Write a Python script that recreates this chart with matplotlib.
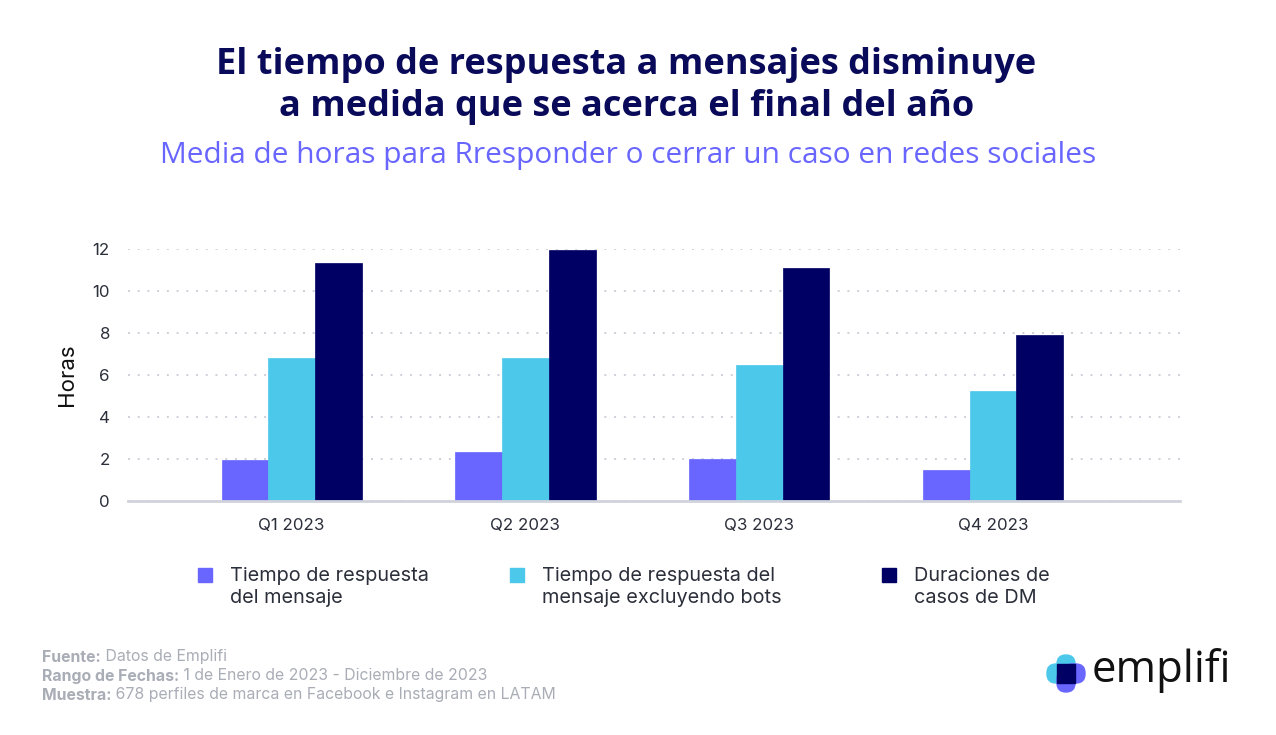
import matplotlib.pyplot as plt
from matplotlib.patches import FancyBboxPatch, Rectangle
import numpy as np

quarters = ['Q1 2023', 'Q2 2023', 'Q3 2023', 'Q4 2023']
series_names = ['Tiempo de respuesta\ndel mensaje',
                'Tiempo de respuesta del\nmensaje excluyendo bots',
                'Duraciones de\ncasos de DM']
resp_time = [1.97, 2.31, 2.0, 1.46]
resp_no_bots = [6.79, 6.82, 6.48, 5.24]
dm_duration = [11.33, 11.94, 11.08, 7.89]
colors = ['#6966ff', '#4cc8ea', '#000064']

W, H = 1276, 735
fig = plt.figure(figsize=(W / 100, H / 100), dpi=100)
fig.patch.set_facecolor('white')

ax = fig.add_axes([128 / W, (H - 501) / H, (1180 - 128) / W, 252 / H])
x = np.arange(len(quarters))
bw = 0.2
for i, vals in enumerate([resp_time, resp_no_bots, dm_duration]):
    ax.bar(x + (i - 1) * bw, vals, bw, color=colors[i], zorder=3,
           edgecolor=colors[i], linewidth=0.5)

ax.set_xlim(-0.70, 3.80)
ax.set_ylim(0, 12)
ax.set_yticks([0, 2, 4, 6, 8, 10, 12])
ax.set_xticks(x)
ax.set_xticklabels(quarters)
ax.grid(axis='y', linestyle=(0, (1, 4)), color='#cdcfd9', linewidth=1.4, zorder=0)
for s in ['top', 'right', 'left']:
    ax.spines[s].set_visible(False)
ax.spines['bottom'].set_color('#d0d3dc')
ax.spines['bottom'].set_linewidth(2)
ax.spines['bottom'].set_zorder(4)
ax.tick_params(axis='both', length=0, labelsize=12.2, labelcolor='#2b2f3a', labelfontfamily='Inter')
ax.tick_params(axis='y', pad=13)
ax.tick_params(axis='x', pad=12)
ax.set_ylabel('Horas', fontsize=16, color='#111111', family='Inter', labelpad=11)

# titles
fig.text(0.491, 1 - 65 / H, 'El tiempo de respuesta a mensajes disminuye', ha='center', va='center',
         fontsize=26, fontweight='bold', color='#0a0a5a', family='Open Sans')
fig.text(0.491, 1 - 107 / H, 'a medida que se acerca el final del año', ha='center', va='center',
         fontsize=26, fontweight='bold', color='#0a0a5a', family='Open Sans')
fig.text(0.492, 1 - 156 / H, 'Media de horas para Rresponder o cerrar un caso en redes sociales',
         ha='center', va='center', fontsize=21.5, color='#6966ff', family='Open Sans')

# legend
leg_x = [198, 510, 882]
for i, name in enumerate(series_names):
    fig.patches.append(Rectangle((leg_x[i] / W, 1 - 582 / H), 14 / W, 14 / H,
                                 transform=fig.transFigure, color=colors[i]))
    fig.text((leg_x[i] + 32) / W, 1 - 567 / H, name, ha='left', va='top', fontsize=14.3,
             color='#2b2f3a', family='Inter', linespacing=1.28)

# footer
foot = [('Fuente:', ' Datos de Emplifi'),
        ('Rango de Fechas:', ' 1 de Enero de 2023 - Diciembre de 2023'),
        ('Muestra:', ' 678 perfiles de marca en Facebook e Instagram en LATAM')]
r = fig.canvas.get_renderer()
for j, (b, t) in enumerate(foot):
    y = 1 - (657 + 19 * j) / H
    tb = fig.text(42 / W, y, b, ha='left', va='center', fontsize=11.4, fontweight='bold',
                  color='#a9adb6', family='Inter')
    bb = tb.get_window_extent(renderer=r)
    fig.text(bb.x1 / W, y, t, ha='left', va='center', fontsize=11.4, color='#a9adb6', family='Inter')

# logo
def rbox(x0, y0, w, h, c):
    fig.patches.append(FancyBboxPatch((x0 / W, 1 - (y0 + h) / H), w / W, h / H,
                                      boxstyle='round,pad=0,rounding_size=0.007',
                                      transform=fig.transFigure, color=c, mutation_aspect=W / H))

rbox(1057, 655, 18, 22, '#4cc8ea')
rbox(1047, 664, 22, 19, '#4cc8ea')
rbox(1063, 664, 22, 19, '#6966ff')
rbox(1057, 670, 18, 22, '#6966ff')
fig.patches.append(Rectangle((1057 / W, 1 - 683 / H), 18 / W, 19 / H,
                             transform=fig.transFigure, color='#000064'))
fig.text(1092 / W, 1 - 671 / H, 'emplifi', ha='left', va='center', fontsize=31.5,
         color='#111111', family='Open Sans')

fig.savefig('out.png', dpi=100)
